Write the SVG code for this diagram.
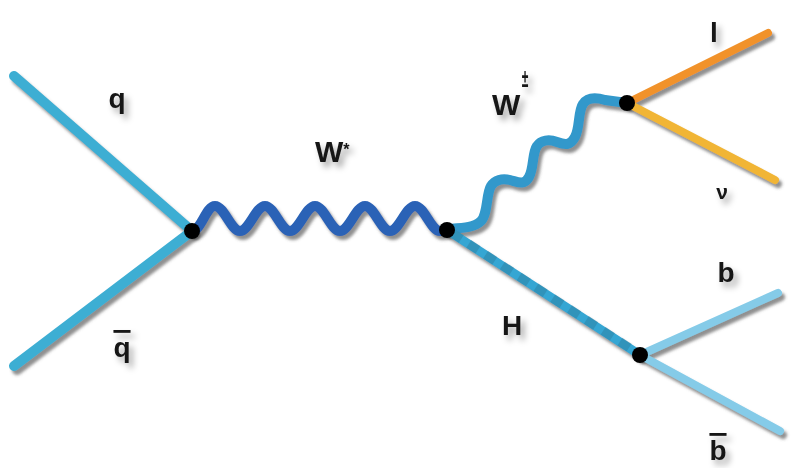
<svg xmlns="http://www.w3.org/2000/svg" width="792" height="468" viewBox="0 0 792 468">
<defs>
<filter id="sh" filterUnits="userSpaceOnUse" x="0" y="0" width="792" height="468">
<feDropShadow dx="3" dy="4" stdDeviation="1.6" flood-color="#555" flood-opacity="0.65"/>
</filter>
<filter id="tsh" filterUnits="userSpaceOnUse" x="0" y="0" width="792" height="468">
<feDropShadow dx="4" dy="5" stdDeviation="3" flood-color="#000" flood-opacity="0.35"/>
</filter>
</defs>
<style>
.ln{fill:none;stroke-linecap:round;stroke-linejoin:round;filter:url(#sh)}
.lbl{filter:url(#tsh)}
.lbl text{font-family:"Liberation Sans",Arial,sans-serif;font-weight:bold;fill:#151515}
.vx{fill:#000}
</style>
<rect width="792" height="468" fill="#ffffff"/>
<g id="connectors">
<line id="q-line" class="ln" x1="14" y1="76" x2="192" y2="231" stroke="#3eaed3" stroke-width="10"/>
<line id="qbar-line" class="ln" x1="14" y1="366" x2="192" y2="231" stroke="#3eaed3" stroke-width="10"/>
<path id="wstar-line" class="ln" stroke="#2b62b6" stroke-width="10" d="M192,231 C201,231 206,206 215,206 C224,206 231,231 240,231 C249,231 256,206 265,206 C274,206 281,231 290,231 C299,231 306,206 315,206 C324,206 331,231 340,231 C349,231 356,206 365,206 C374,206 381,231 390,231 C399,231 406,206 415,206 C424,206 431,231 440,231 L447,230"/>
<path id="wpm-line" class="ln" stroke="#3298cb" stroke-width="10" d="M447,229 C462,228 474,228 481,221 C488,214 486,194 491,186 C495,180 502,178 510,180 C518,182 524,186 529,177 C534,168 532,153 537,146 C541,140 549,139 557,142 C565,145 570,146 575,137 C580,128 578,111 583,104 C587,98 595,97 605,100 L627,103"/>
<g id="h-line">
<line class="ln" x1="447" y1="230" x2="640" y2="355" stroke="#35a6d3" stroke-width="9"/>
<line x1="452" y1="233" x2="636" y2="352" stroke="#2c6f8c" stroke-opacity="0.35" stroke-width="9" stroke-dasharray="11 9" fill="none"/>
</g>
<line id="l-line" class="ln" x1="627" y1="103" x2="768" y2="33" stroke="#f1922b" stroke-width="8"/>
<line id="nu-line" class="ln" x1="627" y1="103" x2="775" y2="180" stroke="#f1b535" stroke-width="8"/>
<line id="b-line" class="ln" x1="640" y1="355" x2="778" y2="293" stroke="#85cbe8" stroke-width="8"/>
<line id="bbar-line" class="ln" x1="640" y1="355" x2="780" y2="431" stroke="#85cbe8" stroke-width="8"/>
</g>
<g id="vertex-qq"><circle class="vx" cx="192" cy="231" r="8"/></g>
<g id="vertex-wwh"><circle class="vx" cx="447" cy="230" r="8"/></g>
<g id="vertex-lnu"><circle class="vx" cx="627" cy="103" r="8"/></g>
<g id="vertex-bb"><circle class="vx" cx="640" cy="355" r="8"/></g>
<g id="label-q" class="lbl"><text x="117" y="108" font-size="28" text-anchor="middle">q</text></g>
<g id="label-qbar" class="lbl"><text x="122" y="357" font-size="28" text-anchor="middle" text-decoration="overline">q</text></g>
<g id="label-wstar" class="lbl"><text x="315" y="162" font-size="30">W<tspan font-size="16" dy="-7">*</tspan></text></g>
<g id="label-wpm" class="lbl"><text x="492" y="115" font-size="30">W</text><text transform="translate(525,87) scale(0.6,1.3)" font-size="20" text-anchor="middle">±</text></g>
<g id="label-h" class="lbl"><text x="512" y="335" font-size="28" text-anchor="middle">H</text></g>
<g id="label-l" class="lbl"><text x="714" y="42" font-size="28" text-anchor="middle">l</text></g>
<g id="label-nu" class="lbl"><text x="722" y="199" font-size="21" font-weight="normal" text-anchor="middle">ν</text></g>
<g id="label-b" class="lbl"><text x="726" y="282" font-size="28" text-anchor="middle">b</text></g>
<g id="label-bbar" class="lbl"><text x="718" y="460" font-size="28" text-anchor="middle" text-decoration="overline">b</text></g>
</svg>
